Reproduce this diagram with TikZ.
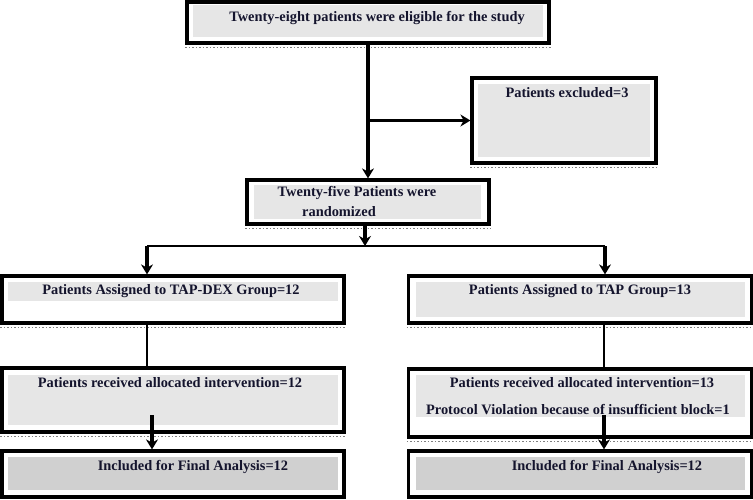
\documentclass[tikz,border=0pt]{standalone}
\usepackage{fontspec}
\usetikzlibrary{arrows.meta}
\setmainfont{Liberation Serif}
\definecolor{ink}{RGB}{20,20,45}
\definecolor{shadeA}{RGB}{230,230,230}
\definecolor{shadeB}{RGB}{208,208,208}
\begin{document}
\begin{tikzpicture}[x=1pt,y=-1pt,>={Stealth[length=10pt,width=12pt]},
    box/.style={draw,line width=3.2pt,inner sep=0pt},
    txt/.style={text=ink,font=\fontsize{14.4}{17}\selectfont\bfseries,inner sep=0pt},
    arr/.style={->,line width=3.2pt},
    thinline/.style={line width=1.3pt}]
\useasboundingbox (0,0) rectangle (753,500);
% boxes
\node[box,minimum width=362pt,minimum height=41pt](top) at (368,22.5){};
\node[box,minimum width=184pt,minimum height=85pt](excl) at (564,120.5){};
\node[box,minimum width=242pt,minimum height=44pt](rand) at (368,202){};
\node[box,minimum width=342pt,minimum height=47pt](asgL) at (173,299.5){};
\node[box,minimum width=343pt,minimum height=47pt](asgR) at (580,299.5){};
\node[box,minimum width=342pt,minimum height=64pt](recL) at (173,400){};
\node[box,minimum width=343pt,minimum height=68pt](recR) at (580,403){};
\node[box,minimum width=342pt,minimum height=46pt](finL) at (173,474){};
\node[box,minimum width=343pt,minimum height=46pt](finR) at (580,474){};
% shading inside the boxes
\fill[shadeA](193,5) rectangle (543,37);
\fill[shadeA](478,84) rectangle (650,157);
\fill[shadeA](254,185) rectangle (481,219);
\fill[shadeA](8,282) rectangle (338,301);
\fill[shadeA](416,282) rectangle (745,317);
\fill[shadeA](8,375) rectangle (338,425);
\fill[shadeA](416,375) rectangle (745,417);
\fill[shadeB](8,457) rectangle (338,490);
\fill[shadeB](416,457) rectangle (745,490);
% dotted shadow under the boxes
\foreach \b in {top,excl,rand,asgL,asgR,recL,recR,finL,finR}
  \draw[gray,line width=1.5pt,dotted]([yshift=-3pt]\b.south west)--([yshift=-3pt]\b.south east);
% texts
\node[txt] at (377,18){Twenty-eight patients were eligible for the study};
\node[txt] at (567,93){Patients excluded=3};
\node[txt,align=left] at (357,202){Twenty-five Patients were\\[3pt]\hspace*{1.7em}randomized};
\node[txt] at (171,291){Patients Assigned to TAP-DEX Group=12};
\node[txt] at (580,291){Patients Assigned to TAP Group=13};
\node[txt] at (170,383){Patients received allocated intervention=12};
\node[txt] at (582,383){Patients received allocated intervention=13};
\node[txt] at (578,410){Protocol Violation because of insufficient block=1};
\node[txt] at (193,467){Included for Final Analysis=12};
\node[txt] at (607,467){Included for Final Analysis=12};
% connectors
\coordinate (br) at (top.south |- excl.west);
\coordinate (sp) at (365,246);
\coordinate (sl) at (147,246);
\coordinate (sr) at (605,246);
\coordinate (dl) at (152,415);
\coordinate (dr) at (604,415);
\draw[arr](top.south)--(rand.north);
\draw[arr](br)--(excl.west);
\draw[arr](rand.south -| sp)--(sp);
\draw[thinline](sl)--(sr);
\draw[arr](sl)--(sl |- asgL.north);
\draw[arr](sr)--(sr |- asgR.north);
\draw[thinline](sl |- asgL.south)--(sl |- recL.north);
\draw[thinline](dr |- asgR.south)--(dr |- recR.north);
\draw[arr](dl)--(dl |- finL.north);
\draw[arr](dr)--(dr |- finR.north);
\end{tikzpicture}
\end{document}
